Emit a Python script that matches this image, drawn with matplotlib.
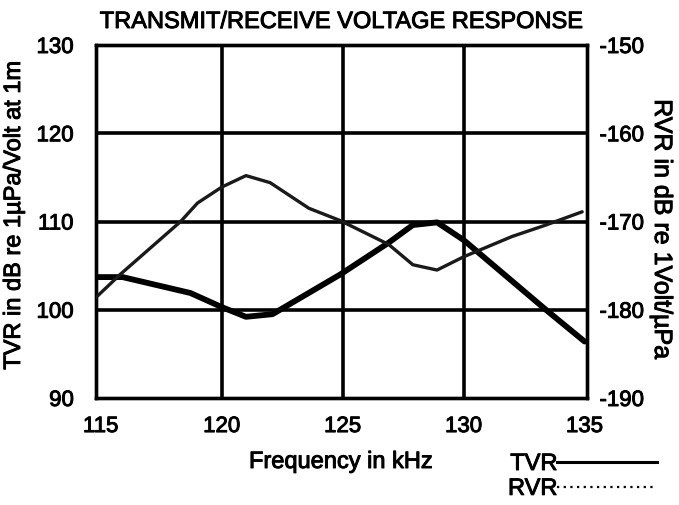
import matplotlib
matplotlib.use("Agg")
import matplotlib.pyplot as plt
import matplotlib.patheffects as pe
from matplotlib.lines import Line2D

plt.rcParams['font.family'] = ['Liberation Sans', 'DejaVu Sans']

# Data (frequency in kHz)
tvr_freq = [114.8, 115.9, 118.7, 120.0, 121.0, 122.1, 124.9, 126.9, 127.9, 128.9, 130.0, 133.4, 135.0]
tvr_db = [103.7, 103.7, 101.9, 100.3, 99.2, 99.5, 104.0, 107.6, 109.6, 109.9, 107.9, 100.0, 96.4]

rvr_freq = [114.8, 115.8, 118.3, 119.0, 120.0, 121.0, 122.0, 123.6, 124.9, 126.9, 127.9, 128.9, 130.0, 132.0, 133.4, 134.9]
rvr_db = [-178.6, -176.0, -170.0, -167.9, -166.1, -164.8, -165.6, -168.5, -169.9, -172.6, -174.9, -175.5, -174.0, -171.7, -170.4, -168.9]

x_ticks = [115, 120, 125, 130, 135]
left_ticks = [90, 100, 110, 120, 130]
right_ticks = [-190, -180, -170, -160, -150]

heavy = [pe.withStroke(linewidth=0.7, foreground='black')]

W, H = 679, 505
fig = plt.figure(figsize=(W / 100, H / 100), dpi=100)
ax = fig.add_axes([96 / W, 1 - 398 / H, (587 - 96) / W, (398 - 45) / H])
ax2 = ax.twinx()

ax.set_xlim(114.8, 135.1)
ax.set_ylim(90, 130)
ax2.set_ylim(-190, -150)

for x in x_ticks[1:-1]:
    ax.axvline(x, color='black', lw=2.6, zorder=1)
for y in left_ticks[1:-1]:
    ax.axhline(y, color='black', lw=2.6, zorder=1)

ax.plot(tvr_freq, tvr_db, color='black', lw=4.2, solid_capstyle='round', solid_joinstyle='round', zorder=3)
ax2.plot(rvr_freq, rvr_db, color='#1a1a1a', lw=2.4, solid_capstyle='round', solid_joinstyle='round', zorder=3)

ax.set_xticks(x_ticks)
ax.set_yticks(left_ticks)
ax2.set_yticks(right_ticks)
ax.set_xticklabels([str(v) for v in x_ticks])
ax.set_yticklabels([str(v) for v in left_ticks])
ax2.set_yticklabels([str(v) for v in right_ticks])

for a in (ax, ax2):
    for s in a.spines.values():
        s.set_linewidth(2.4)
    a.tick_params(length=0, labelsize=16)
ax.tick_params(axis='x', pad=13)
ax.tick_params(axis='y', pad=16)
ax2.tick_params(axis='y', pad=9)

texts = []
texts.append(fig.text(341 / W, 1 - 28 / H, 'TRANSMIT/RECEIVE VOLTAGE RESPONSE', fontsize=17,
                      ha='center', va='baseline'))
texts.append(fig.text(341 / W, 1 - 468 / H, 'Frequency in kHz', fontsize=17, ha='center', va='baseline'))
texts.append(ax.set_ylabel('TVR in dB re 1\u00b5Pa/Volt at 1m', fontsize=17))
ax.yaxis.set_label_coords((25 - 96) / 491, (398 - 215) / 353)
texts.append(ax2.set_ylabel('RVR in dB re 1Volt/\u00b5Pa', fontsize=18, rotation=-90, va='center'))
ax2.yaxis.set_label_coords((662 - 96) / 491, (398 - 229) / 353)

handles = [Line2D([], [], color='black', lw=2.2), Line2D([], [], color='black', lw=1.6, ls=(0, (1, 2)))]
leg = fig.legend(handles, ['TVR', 'RVR'], loc='upper left', bbox_to_anchor=(508 / W, 1 - 453 / H),
                 frameon=False, markerfirst=False, handlelength=4.2, handletextpad=0.0,
                 fontsize=17, labelspacing=0.12, borderpad=0, borderaxespad=0)
texts.extend(leg.get_texts())
texts.extend(ax.get_xticklabels() + ax.get_yticklabels() + ax2.get_yticklabels())
for t in texts:
    t.set_path_effects(heavy)

fig.savefig('out.png', dpi=100)
